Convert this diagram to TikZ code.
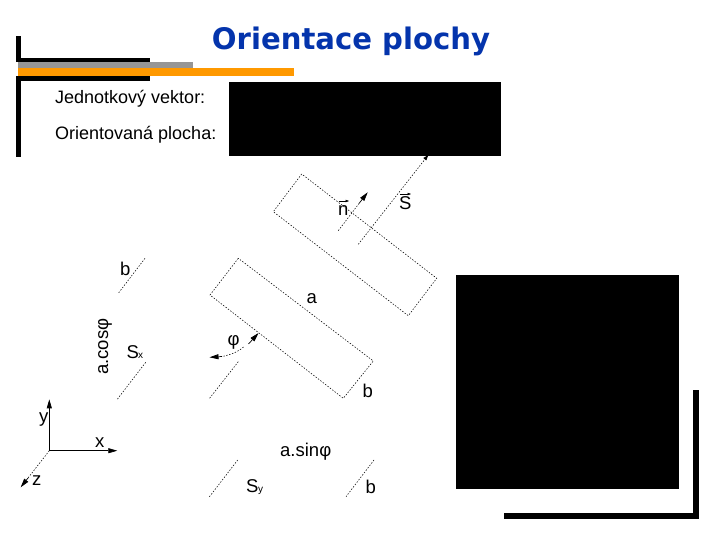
\documentclass[tikz,border=0pt]{standalone}
\usepackage{fontspec}
\setmainfont{Liberation Sans}
\newfontfamily\titlefont{DejaVu Sans}
\usetikzlibrary{arrows.meta}
\definecolor{titleblue}{RGB}{4,52,172}
\definecolor{bargrey}{RGB}{150,150,150}
\definecolor{barorange}{RGB}{255,153,0}
\tikzset{
  dots/.style={line width=0.55pt,dash pattern=on 1.4pt off 1.6pt},
  solidaxis/.style={line width=0.9pt},
  wedge/.style={-{Triangle[length=9pt,width=5pt]},line width=0.7pt},
  hat/.style={line width=0.5pt,-{Triangle[length=3.5pt,width=2.5pt]}},
  txt/.style={inner sep=0pt,anchor=base west,font=\fontsize{18}{20}\selectfont},
  lbl/.style={inner sep=0pt,anchor=base west,font=\fontsize{18.5}{20}\selectfont},
  sublbl/.style={inner sep=0pt,anchor=base west,font=\fontsize{10}{11}\selectfont},
  block/.style={fill=black,draw=none},
}
\begin{document}
\begin{tikzpicture}[x=1pt,y=-1pt]
\useasboundingbox (0,0) rectangle (720,540);
% frame
\fill[block] (16,36) rectangle (21,62);
\fill[block] (16,58) rectangle (150,62);
\fill[block] (16,76) rectangle (150,81);
\fill[block] (16,76) rectangle (21,157);
\fill[bargrey] (18,62) rectangle (193,69);
\fill[barorange] (18,68) rectangle (294,76);
\fill[block] (693,390) rectangle (699,519);
\fill[block] (504,513) rectangle (699,519);
% black panels
\fill[block] (229,82) rectangle (501,156);
\fill[block] (456,275) rectangle (679,489);
% texts
\node[inner sep=0pt,anchor=base,text=titleblue,font=\titlefont\bfseries\fontsize{28}{34}\selectfont] (title) at (351,50) {\scalebox{1.04}[1.06]{Orientace plochy}};
\node[txt] (t1) at (55,104) {Jednotkový vektor:};
\node[txt] (t2) at (55,140) {Orientovaná plocha:};
% rectangles
\coordinate (A1) at (301.7,174);
\coordinate (A2) at (273.3,211.7);
\coordinate (A3) at (408.3,315.7);
\coordinate (A4) at (436.7,278.3);
\draw[dots] (A1) -- (A2) -- (A3) -- (A4) -- cycle;
\coordinate (B1) at (238.3,258.3);
\coordinate (B2) at (210,295);
\coordinate (B3) at (343.3,398.3);
\coordinate (B4) at (373.3,361);
\draw[dots] (B1) -- (B2) -- (B3) -- (B4) -- cycle;
% normals
\coordinate (S0) at (358.3,244.3);
\coordinate (S1) at (428.3,155);
\draw[dots] (S0) -- (S1);
\fill (S1) -- ++(-5,3) -- ++(3,2.5) -- cycle;
\coordinate (N0) at (338.3,230.7);
\coordinate (N1) at (359,203.5);
\coordinate (N2) at (367.7,192.3);
\draw[dots] (N0) -- (N1);
\draw[wedge] (N1) -- (N2);
% projections
\coordinate (P1) at (145,258.3); \coordinate (P2) at (118.3,293.3);
\draw[dots] (P1) -- (P2);
\coordinate (Q1) at (145.7,362.3); \coordinate (Q2) at (117.3,399.3);
\draw[dots] (Q1) -- (Q2);
\coordinate (R1) at (237.7,460); \coordinate (R2) at (209,497.3);
\draw[dots] (R1) -- (R2);
\coordinate (T1) at (374,460); \coordinate (T2) at (346,496.7);
\draw[dots] (T1) -- (T2);
\coordinate (U1) at (238.3,361.7); \coordinate (U2) at (209,399);
\draw[dots] (U1) -- (U2);
% angle
\coordinate (V0) at (243.5,347); \coordinate (V1) at (222,356.5); \coordinate (V2) at (209.5,357.3);
\draw[dots] (V0) .. controls (238,352) and (230,355) .. (V1);
\draw[wedge] (V1) -- (V2);
\coordinate (W0) at (248.5,344); \coordinate (W1) at (258.5,333);
\draw[wedge] (W0) -- (W1);
% axes
\coordinate (O) at (49.3,450.7);
\coordinate (Y) at (49.3,399.3);
\coordinate (X) at (117.3,450.7);
\coordinate (Z) at (20.7,487.3);
\coordinate (Z1) at (28,478);
\draw[solidaxis] (O) -- (49.3,410);
\draw[wedge] (49.3,410) -- (Y);
\draw[solidaxis] (O) -- (106,450.7);
\draw[wedge] (106,450.7) -- (X);
\draw[dots] (O) -- (Z1);
\draw[wedge] (Z1) -- (Z);
% labels
\node[lbl] (ly) at (39,422) {y};
\node[lbl] (lx) at (95,447) {x};
\node[lbl] (lz) at (32,485) {z};
\node[lbl] (lb1) at (120,275) {b};
\node[lbl,rotate=90] (lac) at (108,375) {a.cosφ};
\node[lbl] (lsx) at (126.5,358) {S};
\node[sublbl] (lsx2) at (138,358) {x};
\node[lbl] (la) at (306.5,303) {a};
\node[lbl] (lphi) at (227.5,345) {φ};
\node[lbl] (lb2) at (362.5,397) {b};
\node[lbl] (las) at (280,456) {a.sinφ};
\node[lbl] (lsy) at (246,492) {S};
\node[sublbl] (lsy2) at (258,492) {y};
\node[lbl] (lb3) at (365.5,493) {b};
\node[lbl] (ln) at (338,215) {n};
\draw[hat] (338.5,201) -- (349,201);
\node[lbl] (lS) at (399,210) {S};
\draw[hat] (400,194) -- (411,194);
\end{tikzpicture}
\end{document}
